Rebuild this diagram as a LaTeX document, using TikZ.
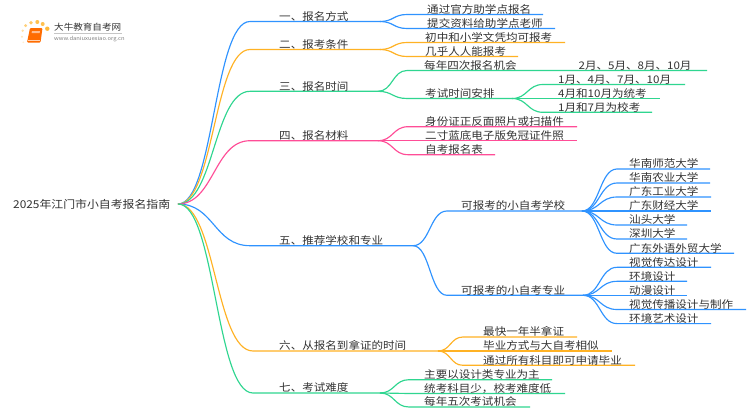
\documentclass[tikz,border=0pt]{standalone}
\usepackage{fontspec}
\setmainfont{Noto Sans CJK SC}[FakeStretch=1.1]
\usetikzlibrary{calc}
\definecolor{cblue}{HTML}{2F93FF}
\definecolor{corange}{HTML}{FFB224}
\definecolor{cgreen}{HTML}{2FD690}
\definecolor{cpink}{HTML}{FF4D97}
\definecolor{ctext}{HTML}{333333}
\tikzset{
  lbl/.style={anchor=west,inner sep=0pt,text=ctext,font=\fontsize{10.5}{12}\selectfont},
  conn/.style={line width=1.15pt}
}
% name, colour, parent, text x, curve end x, line end x, y, text
\newcommand\leaf[8]{%
  \coordinate (#1s) at (#5,#7);
  \coordinate (#1e) at (#6,#7);
  \coordinate (#1m) at ($(#3)!0.5!(#1s)$);
  \draw[conn,#2] (#3) .. controls (#3 -| #1m) and (#1s -| #1m) .. (#1s) -- (#1e);
  \node[lbl] (#1) at (#4,#7-5.2) {#8};
}
\begin{document}
\begin{tikzpicture}[x=1pt,y=-1pt]
\useasboundingbox (0,0) rectangle (750,410);
\fill[white] (0,0) rectangle (750,410);
% logo
\foreach \px/\py/\r/\o in {22/36.7/1.1/0.3,22.7/30.7/1.3/0.4,25.6/25.6/1.6/0.6,31/22.7/1.9/0.7,37.3/22/2/0.8,42.7/24/2/0.8,47.3/28.7/2.2/0.9,23.3/42.3/0.9/0.2}
  \fill[corange,opacity=\o] (\px,\py) circle (\r);
\fill[rounded corners=1pt,orange!85!red] (30,28) -- (42.5,28) -- (40.5,42.5) -- (27,42.5) -- cycle;
\fill[white,opacity=0.55] (32,31) -- (40,31) -- (39.6,33) -- (31.6,33) -- cycle;
\draw[white,opacity=0.7,line width=0.5pt] (28,40.6) -- (39.5,40.6);
\node[lbl,font=\fontsize{8.7}{10}\selectfont,text=ctext] (logot) at (54,27) {大牛教育自考网};
\draw[gray!45,line width=0.5pt] (54,33.3) -- (122,33.3);
\node[lbl,font=\fontsize{5.3}{6}\selectfont,text=gray] (logou) at (54,38.7) {www.daniuxuexiao.org.cn};
% root
\node[lbl,font=\fontsize{10.8}{12}\selectfont] (root) at (13,204.6) {2025年江门市小自考报名指南};
\coordinate (rj) at (178,204);
% branches
\leaf{a}{cblue}{rj}{279}{250}{380}{21.5}{一、报名方式}
\leaf{b}{corange}{rj}{279}{250}{380}{49.5}{二、报考条件}
\leaf{c}{cgreen}{rj}{279}{250}{378}{91.3}{三、报名时间}
\leaf{d}{cpink}{rj}{279}{250}{378}{140.7}{四、报名材料}
\leaf{e}{cblue}{rj}{279}{250}{413}{245.7}{五、推荐学校和专业}
\leaf{f}{corange}{rj}{279}{253}{438}{351}{六、从报名到拿证的时间}
\leaf{g}{cgreen}{rj}{279}{253}{380}{393}{七、考试难度}
% one
\leaf{a1}{cblue}{ae}{427}{407}{543}{14.5}{通过官方助学点报名}
\leaf{a2}{cblue}{ae}{427}{407}{555}{28.5}{提交资料给助学点老师}
% two
\leaf{b1}{corange}{be}{425}{407}{565}{42.5}{初中和小学文凭均可报考}
\leaf{b2}{corange}{be}{425}{407}{518}{56.5}{几乎人人能报考}
% three
\leaf{c1}{cgreen}{ce}{424}{407}{707}{70.5}{每年四次报名机会\hspace{62pt}2月、5月、8月、10月}
\leaf{c2}{cgreen}{ce}{425}{407}{512}{98.5}{考试时间安排}
\leaf{c21}{cgreen}{c2e}{558}{543}{685}{84.5}{1月、4月、7月、10月}
\leaf{c22}{cgreen}{c2e}{558}{543}{660}{98.5}{4月和10月为统考}
\leaf{c23}{cgreen}{c2e}{558}{543}{652}{112.3}{1月和7月为校考}
% four
\leaf{d1}{cpink}{de}{425}{408}{577}{126.7}{身份证正反面照片或扫描件}
\leaf{d2}{cpink}{de}{425}{408}{577}{140.7}{二寸蓝底电子版免冠证件照}
\leaf{d3}{cpink}{de}{425}{408}{495}{154.7}{自考报名表}
% five
\leaf{e1}{cblue}{ee}{461}{447}{582}{211}{可报考的小自考学校}
\leaf{e2}{cblue}{ee}{461}{447}{583}{295.3}{可报考的小自考专业}
\leaf{s1}{cblue}{e1e}{629}{617}{710}{169}{华南师范大学}
\leaf{s2}{cblue}{e1e}{629}{617}{710}{183}{华南农业大学}
\leaf{s3}{cblue}{e1e}{629}{617}{711}{197}{广东工业大学}
\leaf{s4}{cblue}{e1e}{629}{617}{711}{211}{广东财经大学}
\leaf{s5}{cblue}{e1e}{629}{617}{687}{225}{汕头大学}
\leaf{s6}{cblue}{e1e}{629}{617}{687}{239}{深圳大学}
\leaf{s7}{cblue}{e1e}{629}{617}{734}{253.3}{广东外语外贸大学}
\leaf{m1}{cblue}{e2e}{629}{617}{711}{267.3}{视觉传达设计}
\leaf{m2}{cblue}{e2e}{629}{617}{687}{281.3}{环境设计}
\leaf{m3}{cblue}{e2e}{629}{617}{687}{295.3}{动漫设计}
\leaf{m4}{cblue}{e2e}{629}{617}{746}{309.5}{视觉传播设计与制作}
\leaf{m5}{cblue}{e2e}{629}{617}{711}{323.6}{环境艺术设计}
% six
\leaf{f1}{corange}{fe}{483}{463}{577}{337}{最快一年半拿证}
\leaf{f2}{corange}{fe}{483}{463}{612}{351}{毕业方式与大自考相似}
\leaf{f3}{corange}{fe}{483}{463}{635}{365.3}{通过所有科目即可申请毕业}
% seven
\leaf{g1}{cgreen}{ge}{424}{409}{552}{379.7}{主要以设计类专业为主}
\leaf{g2}{cgreen}{ge}{424}{409}{565}{393.5}{统考科目少，校考难度低}
\leaf{g3}{cgreen}{ge}{424}{409}{530}{407}{每年五次考试机会}
\end{tikzpicture}
\end{document}
